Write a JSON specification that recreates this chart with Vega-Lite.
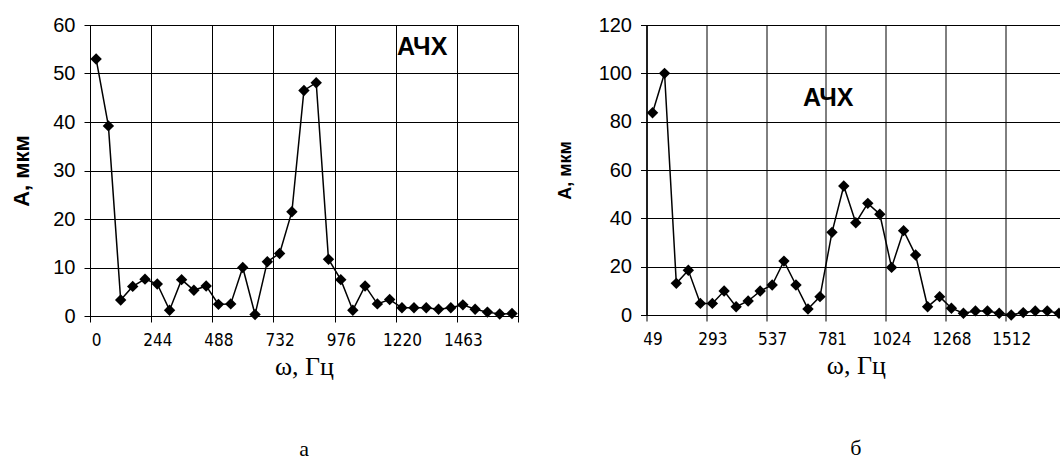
{
  "$schema": "https://vega.github.io/schema/vega-lite/v6.json",
  "padding": {"left": 10, "top": 14, "right": 0, "bottom": 0},
  "background": "white",
  "bounds": "flush",
  "spacing": 128.5,
  "datasets": {
    "a": [
      {"f": 0, "A": 53.0}, {"f": 49, "A": 39.2}, {"f": 98, "A": 3.3}, {"f": 146, "A": 6.1},
      {"f": 195, "A": 7.6}, {"f": 244, "A": 6.6}, {"f": 293, "A": 1.2}, {"f": 341, "A": 7.5},
      {"f": 390, "A": 5.3}, {"f": 439, "A": 6.2}, {"f": 488, "A": 2.4}, {"f": 537, "A": 2.5},
      {"f": 585, "A": 10.0}, {"f": 634, "A": 0.3}, {"f": 683, "A": 11.2}, {"f": 732, "A": 12.9},
      {"f": 781, "A": 21.5}, {"f": 829, "A": 46.5}, {"f": 878, "A": 48.1}, {"f": 927, "A": 11.7},
      {"f": 976, "A": 7.5}, {"f": 1024, "A": 1.2}, {"f": 1073, "A": 6.2}, {"f": 1122, "A": 2.5},
      {"f": 1171, "A": 3.4}, {"f": 1220, "A": 1.7}, {"f": 1268, "A": 1.7}, {"f": 1317, "A": 1.7},
      {"f": 1366, "A": 1.4}, {"f": 1415, "A": 1.7}, {"f": 1463, "A": 2.3}, {"f": 1512, "A": 1.4},
      {"f": 1561, "A": 0.8}, {"f": 1610, "A": 0.4}, {"f": 1659, "A": 0.5}
    ],
    "b": [
      {"f": 49, "A": 83.7}, {"f": 98, "A": 100}, {"f": 146, "A": 13.1}, {"f": 195, "A": 18.5},
      {"f": 244, "A": 4.8}, {"f": 293, "A": 4.8}, {"f": 341, "A": 9.9}, {"f": 390, "A": 3.4},
      {"f": 439, "A": 5.8}, {"f": 488, "A": 9.9}, {"f": 537, "A": 12.4}, {"f": 585, "A": 22.3},
      {"f": 634, "A": 12.4}, {"f": 683, "A": 2.5}, {"f": 732, "A": 7.6}, {"f": 781, "A": 34.2},
      {"f": 829, "A": 53.4}, {"f": 878, "A": 38.2}, {"f": 927, "A": 46.2}, {"f": 976, "A": 41.7},
      {"f": 1024, "A": 19.7}, {"f": 1073, "A": 34.9}, {"f": 1122, "A": 24.8}, {"f": 1171, "A": 3.4},
      {"f": 1220, "A": 7.6}, {"f": 1268, "A": 2.8}, {"f": 1317, "A": 0.7}, {"f": 1366, "A": 1.7},
      {"f": 1415, "A": 1.7}, {"f": 1463, "A": 0.7}, {"f": 1512, "A": 0.0}, {"f": 1561, "A": 1.0},
      {"f": 1610, "A": 1.7}, {"f": 1659, "A": 1.7}, {"f": 1707, "A": 0.7}
    ]
  },
  "config": {
    "view": {"stroke": "black", "strokeWidth": 1},
    "axis": {
      "domainColor": "black", "tickColor": "black", "gridColor": "black",
      "labelColor": "black", "titleColor": "black", "domainWidth": 1, "tickWidth": 1, "gridWidth": 1, "gridOpacity": 1
    }
  },
  "hconcat": [
    {
      "width": 428,
      "height": 291,
      "title": {"text": "а", "orient": "bottom", "font": "Liberation Serif", "fontSize": 22, "fontWeight": "normal", "offset": 60, "color": "black"},
      "resolve": {"axis": {"x": "independent"}},
      "layer": [
        {
          "data": {"name": "a"},
          "mark": {"type": "line", "color": "black", "strokeWidth": 1.5},
          "encoding": {
            "x": {"field": "f", "type": "quantitative", "scale": {"domain": [-24.391, 1682.979], "nice": false, "zero": false},
              "axis": {
                "orient": "bottom",
                "values": [-24.391, 219.519, 463.429, 707.339, 951.249, 1195.159, 1439.069, 1682.979],
                "grid": true,
                "ticks": true,
                "tickSize": 6,
                "labels": false,
                "title": null
              }},
            "y": {"field": "A", "type": "quantitative", "scale": {"domain": [0, 60], "nice": false},
              "axis": {
                "values": [0, 10, 20, 30, 40, 50, 60],
                "grid": true,
                "tickSize": 6,
                "labelFont": "Liberation Sans",
                "labelFontSize": 20,
                "labelPadding": 9,
                "title": "А, мкм",
                "titleFont": "Liberation Sans",
                "titleFontWeight": "bold",
                "titleFontSize": 22,
                "titlePadding": 19
              }}
          }
        },
        {
          "data": {"name": "a"},
          "mark": {"type": "point", "shape": "diamond", "filled": true, "color": "black", "size": 130, "opacity": 1},
          "encoding": {
            "x": {"field": "f", "type": "quantitative", "scale": {"domain": [-24.391, 1682.979], "nice": false, "zero": false},
              "axis": {
                "orient": "bottom",
                "values": [0, 244, 488, 732, 976, 1220, 1463],
                "format": "d",
                "grid": false,
                "ticks": false,
                "domain": false,
                "labelFont": "DejaVu Sans Condensed, Liberation Sans",
                "labelFontSize": 17,
                "labelPadding": 16,
                "labelOverlap": false,
                "labelFlush": false,
                "labelBound": false,
                "title": "ω, Гц",
                "titleFont": "Liberation Serif",
                "titleFontSize": 26,
                "titleFontWeight": "normal",
                "titlePadding": 5
              }},
            "y": {"field": "A", "type": "quantitative", "scale": {"domain": [0, 60], "nice": false}}
          }
        },
        {
          "data": {"values": [{"f": 1200, "A": 55.4, "t": "АЧХ"}]},
          "mark": {"type": "text", "align": "left", "baseline": "middle", "font": "Liberation Sans", "fontWeight": "bold", "fontSize": 25, "color": "black"},
          "encoding": {
            "x": {"field": "f", "type": "quantitative", "scale": {"domain": [-24.391, 1682.979], "nice": false, "zero": false}, "axis": null},
            "y": {"field": "A", "type": "quantitative", "scale": {"domain": [0, 60], "nice": false}},
            "text": {"field": "t"}
          }
        }
      ]
    },
    {
      "width": 418.6,
      "height": 290,
      "title": {"text": "б", "orient": "bottom", "font": "Liberation Serif", "fontSize": 22, "fontWeight": "normal", "offset": 60, "color": "black"},
      "resolve": {"axis": {"x": "independent"}},
      "layer": [
        {
          "data": {"name": "b"},
          "mark": {"type": "line", "color": "black", "strokeWidth": 1.5},
          "encoding": {
            "x": {"field": "f", "type": "quantitative", "scale": {"domain": [24.391, 1731.761], "nice": false, "zero": false},
              "axis": {
                "orient": "bottom",
                "values": [24.391, 268.301, 512.211, 756.121, 1000.031, 1243.941, 1487.851, 1731.761],
                "grid": true,
                "ticks": true,
                "tickSize": 6,
                "labels": false,
                "title": null
              }},
            "y": {"field": "A", "type": "quantitative", "scale": {"domain": [0, 120], "nice": false},
              "axis": {
                "values": [0, 20, 40, 60, 80, 100, 120],
                "grid": true,
                "tickSize": 6,
                "labelFont": "Liberation Sans",
                "labelFontSize": 20,
                "labelPadding": 9,
                "title": "А, мкм",
                "titleFont": "Liberation Sans",
                "titleFontWeight": "bold",
                "titleFontSize": 18,
                "titlePadding": 24
              }}
          }
        },
        {
          "data": {"name": "b"},
          "mark": {"type": "point", "shape": "diamond", "filled": true, "color": "black", "size": 130, "opacity": 1},
          "encoding": {
            "x": {"field": "f", "type": "quantitative", "scale": {"domain": [24.391, 1731.761], "nice": false, "zero": false},
              "axis": {
                "orient": "bottom",
                "values": [49, 293, 537, 781, 1024, 1268, 1512],
                "format": "d",
                "grid": false,
                "ticks": false,
                "domain": false,
                "labelFont": "DejaVu Sans Condensed, Liberation Sans",
                "labelFontSize": 17,
                "labelPadding": 16,
                "labelOverlap": false,
                "labelFlush": false,
                "labelBound": false,
                "title": "ω, Гц",
                "titleFont": "Liberation Serif",
                "titleFontSize": 26,
                "titleFontWeight": "normal",
                "titlePadding": 5
              }},
            "y": {"field": "A", "type": "quantitative", "scale": {"domain": [0, 120], "nice": false}}
          }
        },
        {
          "data": {"values": [{"f": 663, "A": 89.6, "t": "АЧХ"}]},
          "mark": {"type": "text", "align": "left", "baseline": "middle", "font": "Liberation Sans", "fontWeight": "bold", "fontSize": 25, "color": "black"},
          "encoding": {
            "x": {"field": "f", "type": "quantitative", "scale": {"domain": [24.391, 1731.761], "nice": false, "zero": false}, "axis": null},
            "y": {"field": "A", "type": "quantitative", "scale": {"domain": [0, 120], "nice": false}},
            "text": {"field": "t"}
          }
        }
      ]
    }
  ]
}
